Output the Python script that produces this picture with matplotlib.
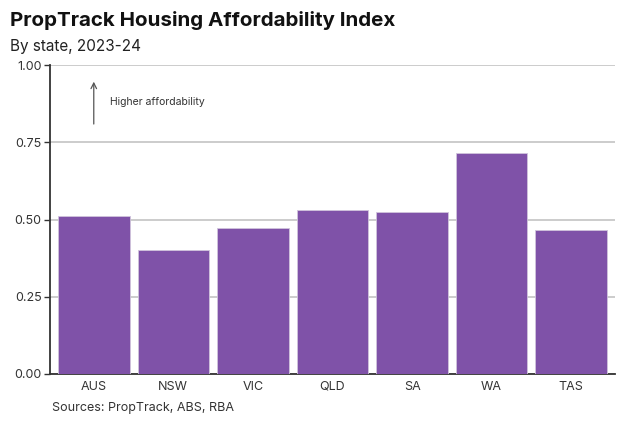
import matplotlib
matplotlib.use("Agg")
import matplotlib.pyplot as plt

plt.rcParams['font.family'] = ['Inter', 'DejaVu Sans']

states = ["AUS", "NSW", "VIC", "QLD", "SA", "WA", "TAS"]
index_values = [0.511, 0.401, 0.472, 0.531, 0.524, 0.715, 0.466]
yticks = [0.0, 0.25, 0.5, 0.75, 1.0]
ytick_labels = ["0.00", "0.25", "0.50", "0.75", "1.00"]

fig = plt.figure(figsize=(6.37, 4.22), dpi=100)
ax = fig.add_axes([50/637, 1 - 374/422, 565/637, 309/422])

x = list(range(len(states)))
ax.bar(x, index_values, width=0.9, color="#7f52a8", edgecolor="#d0c4dc", linewidth=0.6, zorder=3)

ax.set_ylim(0, 1.0)
ax.set_xlim(-0.55, 6.55)
ax.set_yticks(yticks)
ax.set_yticklabels(ytick_labels, fontsize=9)
ax.set_xticks(x)
ax.set_xticklabels(states, fontsize=9)
ax.yaxis.grid(True, color="#cccccc", linewidth=1.4, zorder=0)
ax.set_axisbelow(True)
for s in ["top", "right"]:
    ax.spines[s].set_visible(False)
ax.spines["left"].set_color("#333333")
ax.spines["bottom"].set_color("#333333")
ax.spines["left"].set_linewidth(1.3)
ax.spines["bottom"].set_linewidth(1.3)
ax.tick_params(axis="y", length=4, width=1, color="#333333", labelcolor="#333333", pad=2)
ax.tick_params(axis="x", length=0, labelcolor="#333333", pad=5)

ax.annotate("", xy=(0.0, 0.955), xytext=(0.0, 0.80),
            arrowprops=dict(arrowstyle="->", color="#555555", lw=0.9))
ax.text(0.2, 0.88, "Higher affordability", fontsize=7.5, color="#333333", va="center", ha="left")

fig.text(10/637, 1 - 20/422, "PropTrack Housing Affordability Index", fontsize=14.8,
         fontweight="bold", color="#111111", va="center", ha="left")
fig.text(10/637, 1 - 47/422, "By state, 2023-24", fontsize=11, color="#222222", va="center", ha="left")
fig.text(52/637, 1 - 408/422, "Sources: PropTrack, ABS, RBA", fontsize=9, color="#333333",
         va="center", ha="left")

fig.savefig("out.png", dpi=100, facecolor="white")
